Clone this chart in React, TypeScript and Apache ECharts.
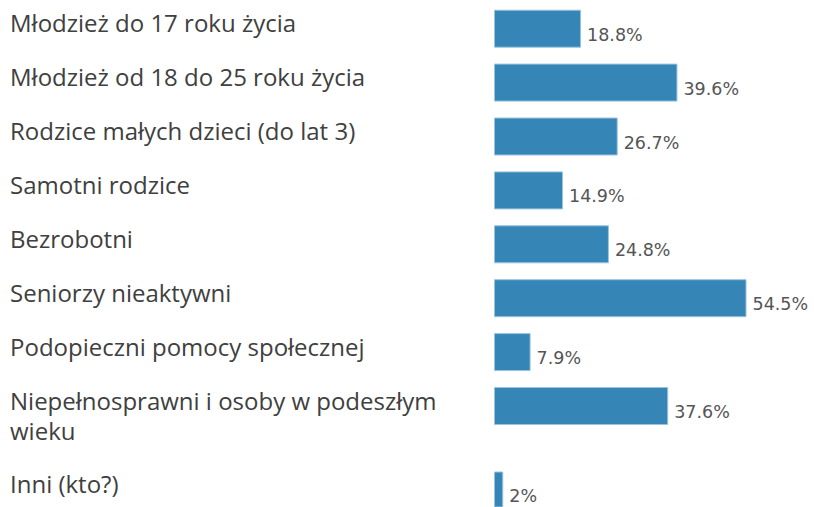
import React, { useEffect, useRef } from "react";
import * as echarts from "echarts";

const mainCategories = [
  "Młodzież do 17 roku życia",
  "Młodzież od 18 do 25 roku życia",
  "Rodzice małych dzieci (do lat 3)",
  "Samotni rodzice",
  "Bezrobotni",
  "Seniorzy nieaktywni",
  "Podopieczni pomocy społecznej",
  "Niepełnosprawni i osoby w podeszłym wieku",
];
const mainValues = [18.8, 39.6, 26.7, 14.9, 24.8, 54.5, 7.9, 37.6];
const lastCategories = ["Inni (kto?)"];
const lastValues = [2];

function wrapLabel(text: string): string {
  const maxChars = 36;
  const words = text.split(" ");
  const lines: string[] = [];
  let cur = "";
  for (const w of words) {
    const next = cur ? cur + " " + w : w;
    if (next.length > maxChars && cur) {
      lines.push(cur);
      cur = w;
    } else cur = next;
  }
  if (cur) lines.push(cur);
  return lines.join("\n");
}

const BAR_COLOR = "#3585b6";

export default function App() {
  const ref = useRef<HTMLDivElement>(null);
  useEffect(() => {
    if (!ref.current) return;
    const chart = echarts.init(ref.current, undefined, { renderer: "svg" });
    const axisLabel = {
      interval: 0,
      align: "left" as const,
      verticalAlign: "top" as const,
      margin: 484,
      fontSize: 24,
      fontFamily: "Open Sans",
      color: "#404040",
      lineHeight: 30,
      padding: [-21, 0, 0, 0],
      formatter: (v: string) => wrapLabel(v),
    };
    const seriesLabel = {
      show: true,
      position: "right" as const,
      distance: 6,
      offset: [0, 6],
      formatter: "{c}%",
      fontFamily: "DejaVu Sans",
      fontSize: 17.5,
      color: "#555555",
    };
    const itemStyle = { color: BAR_COLOR, borderColor: "#9cc4df", borderWidth: 1 };
    chart.setOption({
      animation: false,
      grid: [
        { left: 494, top: 1.75, width: 278, height: 431.2, containLabel: false },
        { left: 494, top: 472, width: 278, height: 38, containLabel: false },
      ],
      xAxis: [
        { type: "value", gridIndex: 0, min: 0, max: 60, show: false },
        { type: "value", gridIndex: 1, min: 0, max: 60, show: false },
      ],
      yAxis: [
        {
          type: "category",
          gridIndex: 0,
          inverse: true,
          data: mainCategories,
          axisLine: { show: false },
          axisTick: { show: false },
          splitLine: { show: false },
          axisLabel,
        },
        {
          type: "category",
          gridIndex: 1,
          inverse: true,
          data: lastCategories,
          axisLine: { show: false },
          axisTick: { show: false },
          splitLine: { show: false },
          axisLabel,
        },
      ],
      series: [
        {
          type: "bar",
          xAxisIndex: 0,
          yAxisIndex: 0,
          data: mainValues,
          barWidth: 38,
          itemStyle,
          label: seriesLabel,
        },
        {
          type: "bar",
          xAxisIndex: 1,
          yAxisIndex: 1,
          data: lastValues,
          barWidth: 38,
          itemStyle,
          label: seriesLabel,
        },
      ],
    });
    return () => chart.dispose();
  }, []);
  return (
    <div
      ref={ref}
      style={{ position: "absolute", left: 0, top: 0, width: 814, height: 507, background: "#ffffff" }}
    />
  );
}
